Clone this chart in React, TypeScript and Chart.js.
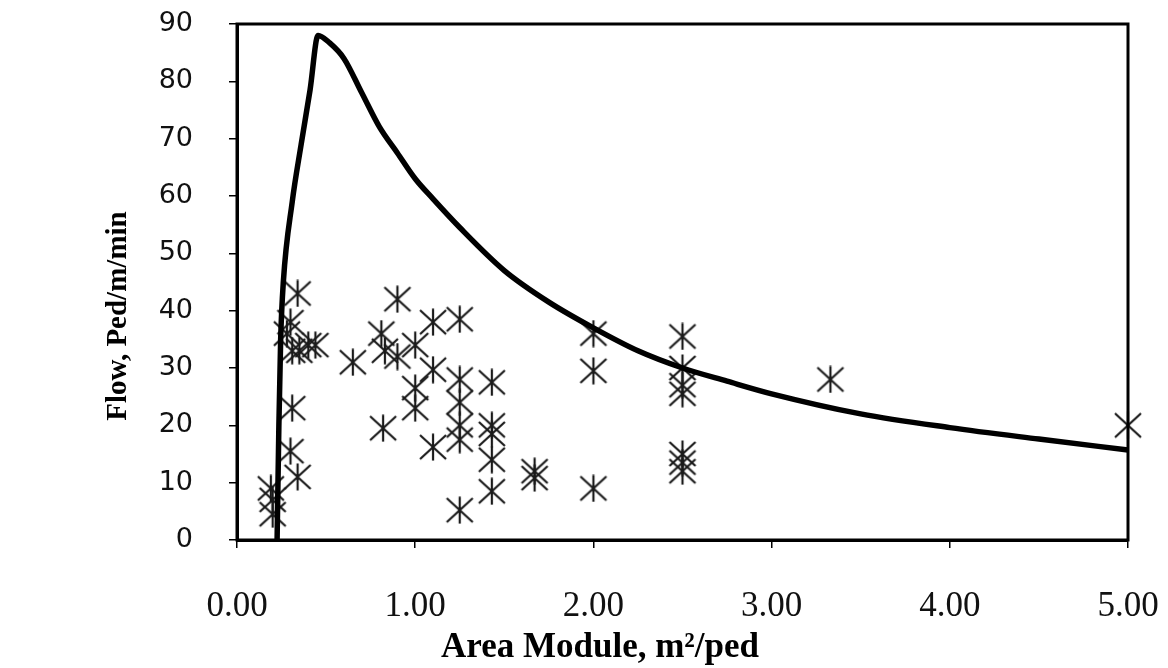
import React, { useEffect, useRef } from "react";
import { Chart, registerables } from "chart.js";

Chart.register(...registerables);

// Observed pedestrian counts: area module (m²/ped) and flow (ped/m/min)
const obsModule = [
  0.34, 0.30, 0.28, 0.31, 0.35, 0.40, 0.44, 0.31, 0.30, 0.34, 0.19, 0.20, 0.20,
  0.65, 0.81, 0.83, 0.90, 0.90, 0.82, 1.0, 1.0, 1.0, 1.10, 1.10, 1.10,
  1.25, 1.25, 1.25, 1.25, 1.25, 1.25, 1.43, 1.43, 1.43, 1.43, 1.43,
  1.67, 1.67, 2.0, 2.0, 2.0, 2.5, 2.5, 2.5, 2.5, 2.5, 2.5, 2.5, 3.33, 5.0,
];
const obsFlow = [
  43, 38, 36, 33, 33, 34, 34, 23, 15.5, 11, 9, 7, 4.5,
  31, 36, 33, 42, 32, 19.5, 34, 26.5, 23, 38, 29.7, 16.2,
  38.5, 28, 24, 20, 17.5, 5.2, 27.5, 20, 18.5, 14, 8.5,
  12, 10.8, 36, 29.5, 9, 35.5, 30, 27, 25.5, 15, 13.5, 12, 28, 20,
];

// Flow–module relationship curve
const curveModule = [
  0.225, 0.235, 0.245, 0.26, 0.31, 0.36, 0.41, 0.455, 0.52, 0.6, 0.7, 0.8, 0.9,
  1.0, 1.1, 1.25, 1.5, 1.75, 2.0, 2.25, 2.5, 2.75, 3.0, 3.5, 4.0, 4.5, 5.0,
];
const curveFlow = [
  0, 20, 35, 45, 59, 69, 78.5, 88, 86.7, 84, 78, 72, 67.5,
  63, 59.5, 54.5, 47, 41.5, 37, 33, 30, 27.7, 25.5, 22, 19.6, 17.6, 15.7,
];

const xTicks = [0, 1, 2, 3, 4, 5];
const yTicks = [0, 10, 20, 30, 40, 50, 60, 70, 80, 90];

const xTitle = "Area Module, m²/ped";
const yTitle = "Flow, Ped/m/min";

function makeStarMarker(): HTMLCanvasElement {
  const c = document.createElement("canvas");
  c.width = 30;
  c.height = 28;
  const g = c.getContext("2d")!;
  g.strokeStyle = "#1a1a1a";
  g.lineWidth = 2.2;
  g.lineCap = "butt";
  g.beginPath();
  g.moveTo(2, 2);
  g.lineTo(28, 26);
  g.moveTo(28, 2);
  g.lineTo(2, 26);
  g.moveTo(15, 0.5);
  g.lineTo(15, 27.5);
  g.stroke();
  return c;
}

const frameAndTitles = {
  id: "frameAndTitles",
  afterDatasetsDraw(chart: any) {
    const { ctx, chartArea } = chart;
    ctx.save();
    ctx.strokeStyle = "#000";
    ctx.lineWidth = 3;
    ctx.strokeRect(chartArea.left, chartArea.top, chartArea.right - chartArea.left, chartArea.bottom - chartArea.top);
    ctx.restore();
  },
  afterDraw(chart: any) {
    const { ctx } = chart;
    ctx.save();
    ctx.fillStyle = "#000";
    ctx.textAlign = "center";
    ctx.textBaseline = "middle";
    ctx.font = "bold 35px 'Liberation Serif'";
    ctx.fillText(xTitle, 600, 648);
    ctx.translate(119, 316);
    ctx.rotate(-Math.PI / 2);
    ctx.font = "bold 29px 'Liberation Serif'";
    ctx.fillText(yTitle, 0, 0);
    ctx.restore();
  },
};

export default function App() {
  const ref = useRef<HTMLCanvasElement>(null);

  useEffect(() => {
    const marker = makeStarMarker();
    const chart = new Chart(ref.current!, {
      type: "scatter",
      data: {
        datasets: [
          {
            label: "Curve",
            data: curveModule.map((x, i) => ({ x, y: curveFlow[i] })),
            showLine: true,
            borderColor: "#000",
            borderWidth: 5.5,
            pointRadius: 0,
            cubicInterpolationMode: "monotone",
            clip: false,
          },
          {
            label: "Observed",
            data: obsModule.map((x, i) => ({ x, y: obsFlow[i] })),
            pointStyle: marker as any,
            pointRadius: 14,
            clip: false,
          },
        ],
      },
      options: {
        responsive: false,
        animation: false,
        devicePixelRatio: 1,
        layout: { padding: { left: 0, right: 40, top: 24, bottom: 0 } },
        plugins: { legend: { display: false }, tooltip: { enabled: false } },
        scales: {
          x: {
            type: "linear",
            min: 0,
            max: 5,
            afterFit(s: any) {
              s.height = 128;
              s.paddingLeft = 0;
              s.paddingRight = 0;
            },
            afterBuildTicks(s: any) {
              s.ticks = xTicks.map((v) => ({ value: v }));
            },
            ticks: {
              color: "#111",
              padding: 38,
              maxRotation: 0,
              font: { family: "'Liberation Serif'", size: 35 },
              callback: (v: any) => Number(v).toFixed(2),
            },
            grid: { drawOnChartArea: false, drawTicks: true, tickLength: 8, color: "#000", lineWidth: 1.5 },
            border: { display: true, color: "#000", width: 3 },
          },
          y: {
            type: "linear",
            min: 0,
            max: 90,
            afterFit(s: any) {
              s.width = 237;
              s.paddingTop = 0;
              s.paddingBottom = 0;
            },
            afterBuildTicks(s: any) {
              s.ticks = yTicks.map((v) => ({ value: v }));
            },
            ticks: {
              color: "#111",
              padding: 36,
              font: { family: "'DejaVu Sans'", size: 27 },
            },
            grid: { drawOnChartArea: false, drawTicks: true, tickLength: 8, color: "#000", lineWidth: 1.5 },
            border: { display: true, color: "#000", width: 3 },
          },
        },
      },
      plugins: [frameAndTitles],
    });
    return () => chart.destroy();
  }, []);

  return (
    <div style={{ position: "fixed", left: 0, top: 0, width: 1168, height: 668, background: "#fff" }}>
      <canvas ref={ref} width={1168} height={668} />
    </div>
  );
}
